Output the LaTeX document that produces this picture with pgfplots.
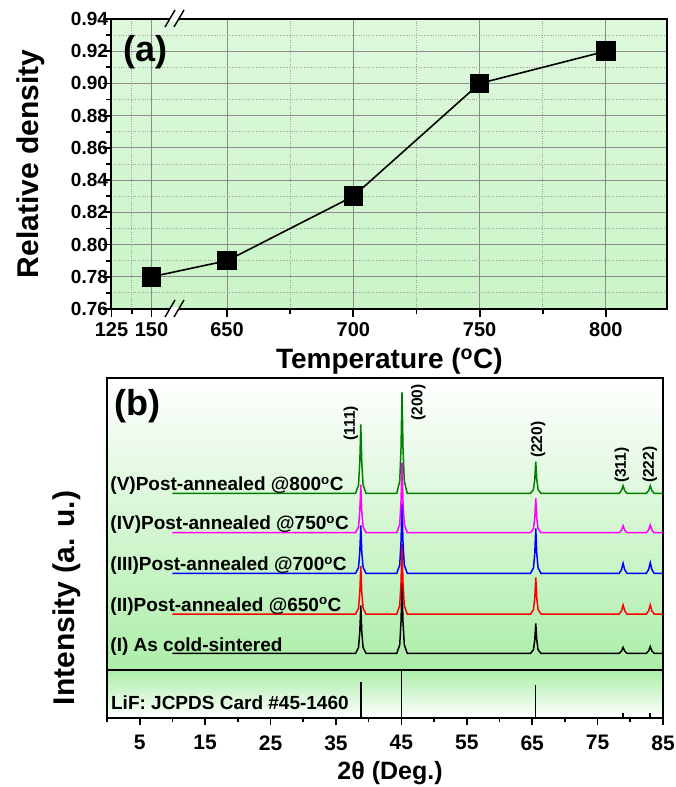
\documentclass[border=0pt]{standalone}
\usepackage{fontspec}
\setmainfont{Liberation Sans}
\usepackage{pgfplots}
\pgfplotsset{compat=1.18}
\definecolor{bggreen}{RGB}{172,238,168}
\definecolor{xgreen}{RGB}{0,128,0}
\definecolor{xmag}{RGB}{255,0,255}
\newcommand{\fs}[1]{\fontsize{#1}{#1}\selectfont\bfseries}

\begin{document}
\begin{tikzpicture}[x=1pt,y=1pt]
\useasboundingbox (0,0) rectangle (676,-787);

% ---------- (a) relative density ----------
\begin{axis}[
  at={(111.5pt,-309pt)}, anchor=south west,
  scale only axis, width=555.8pt, height=290pt,
  xmin=604.25, xmax=824.3, ymin=0.76, ymax=0.94,
  xtick={604.25,620.1,650,700,750,800},
  xticklabels={125,150,650,700,750,800},
  minor xtick={612.3,675,725,775},
  ytick={0.76,0.78,0.80,0.82,0.84,0.86,0.88,0.90,0.92,0.94},
  yticklabels={0.76,0.78,0.80,0.82,0.84,0.86,0.88,0.90,0.92,0.94},
  minor ytick={0.77,0.79,0.81,0.83,0.85,0.87,0.89,0.91,0.93},
  grid=both,
  major grid style={gray!90, line width=1pt},
  minor grid style={gray!75, dotted, line width=0.8pt},
  tick align=outside, tick pos=left,
  major tick length=8pt, minor tick length=5pt,
  tick style={black, line width=1.8pt},
  axis line style={line width=2pt},
  xticklabel style={font=\fs{20}, yshift=-4pt, inner sep=1pt},
  yticklabel style={font=\fs{19}, xshift=8pt},
  xlabel={Temperature (\textsuperscript{o}C)},
  ylabel={Relative density},
  xlabel style={font=\fs{28}, at={(axis description cs:0.5,-0.18)}, anchor=center},
  ylabel style={font=\fs{30}, at={(axis description cs:-0.145,0.5)}, anchor=center},
  axis background/.style={shade, top color=bggreen!40, middle color=bggreen!90, bottom color=bggreen!65},
  clip=false,
]
\addplot[black, line width=1.6pt, mark=square*, mark size=9pt, mark options={fill=black}]
  coordinates {(620.1,0.78) (650,0.79) (700,0.83) (750,0.90) (800,0.92)};
% axis break marks
\fill[white] ([xshift=-4.3pt,yshift=-2.5pt]axis cs:629,0.76) rectangle ([xshift=4.7pt,yshift=2.5pt]axis cs:629,0.76);
\draw[line width=1.4pt] ([xshift=-9pt,yshift=-8pt]axis cs:629,0.76) -- ([xshift=1pt,yshift=9pt]axis cs:629,0.76);
\draw[line width=1.4pt] ([xshift=0pt,yshift=-8pt]axis cs:629,0.76) -- ([xshift=10pt,yshift=9pt]axis cs:629,0.76);
\fill[white] ([xshift=-4.3pt,yshift=-2.5pt]axis cs:629,0.94) rectangle ([xshift=4.7pt,yshift=2.5pt]axis cs:629,0.94);
\draw[line width=1.4pt] ([xshift=-9pt,yshift=-8pt]axis cs:629,0.94) -- ([xshift=1pt,yshift=9pt]axis cs:629,0.94);
\draw[line width=1.4pt] ([xshift=0pt,yshift=-8pt]axis cs:629,0.94) -- ([xshift=10pt,yshift=9pt]axis cs:629,0.94);
\node[font=\fs{36}] at (rel axis cs:0.0603,0.886) {(a)};
\end{axis}

% ---------- (b) XRD patterns ----------
\begin{axis}[
  at={(107pt,-670pt)}, anchor=south west,
  scale only axis, width=556pt, height=292pt,
  xmin=0, xmax=85, ymin=0, ymax=292,
  xtick=\empty, ytick=\empty,
  axis line style={line width=1.6pt},
  ylabel={Intensity (a. u.)},
  ylabel style={font=\fs{30}, at={(axis description cs:-0.072,0.2466)}, anchor=center},
  axis background/.style={shade, top color=white, middle color=bggreen!75, bottom color=bggreen},
]
% (I) as cold-sintered, baseline 16.7
\addplot[black, line width=1.5pt] coordinates {
  (10,16.7) (38.0,16.7) (38.45,22.5) (38.65,38.3) (38.8,64.7) (38.95,38.3) (39.15,22.5) (39.6,16.7)
  (44.3,16.7) (44.75,25.1) (44.95,48.2) (45.1,86.7) (45.25,48.2) (45.45,25.1) (45.9,16.7)
  (64.75,16.7) (65.2,20.3) (65.4,30.2) (65.55,46.7) (65.7,30.2) (65.9,20.3) (66.35,16.7)
  (78.3,16.7) (78.65,18.8) (78.9,22.7) (79.15,18.8) (79.5,16.7)
  (82.45,16.7) (82.8,19.05) (83.05,23.4) (83.3,19.05) (83.65,16.7) (85,16.7)};
% (II) 650 C, baseline 56
\addplot[red, line width=1.5pt] coordinates {
  (10,56) (38.0,56) (38.45,61.8) (38.65,77.6) (38.8,104) (38.95,77.6) (39.15,61.8) (39.6,56)
  (44.3,56) (44.75,64.4) (44.95,87.5) (45.1,126) (45.25,87.5) (45.45,64.4) (45.9,56)
  (64.75,56) (65.2,60.4) (65.4,72.5) (65.55,92.7) (65.7,72.5) (65.9,60.4) (66.35,56)
  (78.3,56) (78.65,59.15) (78.9,65) (79.15,59.15) (79.5,56)
  (82.45,56) (82.8,59.15) (83.05,65) (83.3,59.15) (83.65,56) (85,56)};
% (III) 700 C, baseline 96.7
\addplot[blue, line width=1.5pt] coordinates {
  (10,96.7) (38.0,96.7) (38.45,102.5) (38.65,118.3) (38.8,144.7) (38.95,118.3) (39.15,102.5) (39.6,96.7)
  (44.3,96.7) (44.75,105.1) (44.95,128.2) (45.1,166.7) (45.25,128.2) (45.45,105.1) (45.9,96.7)
  (64.75,96.7) (65.2,102.1) (65.4,116.9) (65.55,141.7) (65.7,116.9) (65.9,102.1) (66.35,96.7)
  (78.3,96.7) (78.65,100.2) (78.9,106.7) (79.15,100.2) (79.5,96.7)
  (82.45,96.7) (82.8,100.4) (83.05,107.4) (83.3,100.4) (83.65,96.7) (85,96.7)};
% (IV) 750 C, baseline 137.3
\addplot[xmag, line width=1.5pt] coordinates {
  (10,137.3) (38.0,137.3) (38.45,143.1) (38.65,158.9) (38.8,185.3) (38.95,158.9) (39.15,143.1) (39.6,137.3)
  (44.3,137.3) (44.75,145.7) (44.95,168.8) (45.1,207.3) (45.25,168.8) (45.45,145.7) (45.9,137.3)
  (64.75,137.3) (65.2,141.4) (65.4,152.8) (65.55,171.7) (65.7,152.8) (65.9,141.4) (66.35,137.3)
  (78.3,137.3) (78.65,139.75) (78.9,144.3) (79.15,139.75) (79.5,137.3)
  (82.45,137.3) (82.8,140) (83.05,145) (83.3,140) (83.65,137.3) (85,137.3)};
% (V) 800 C, baseline 176.7
\addplot[xgreen, line width=1.5pt] coordinates {
  (10,176.7) (38.0,176.7) (38.45,185) (38.65,207.8) (38.8,245.7) (38.95,207.8) (39.15,185) (39.6,176.7)
  (44.3,176.7) (44.75,188.8) (44.95,222.2) (45.1,277.7) (45.25,222.2) (45.45,188.8) (45.9,176.7)
  (64.75,176.7) (65.2,180.5) (65.4,190.9) (65.55,208.3) (65.7,190.9) (65.9,180.5) (66.35,176.7)
  (78.3,176.7) (78.65,179.4) (78.9,184.3) (79.15,179.4) (79.5,176.7)
  (82.45,176.7) (82.8,179.4) (83.05,184.3) (83.3,179.4) (83.65,176.7) (85,176.7)};
\node[font=\fs{19}, anchor=base west, inner sep=0pt] at (axis cs:0.5,179.7) {(V)Post-annealed @800\textsuperscript{o}C};
\node[font=\fs{19}, anchor=base west, inner sep=0pt] at (axis cs:0.5,140.3) {(IV)Post-annealed @750\textsuperscript{o}C};
\node[font=\fs{19}, anchor=base west, inner sep=0pt] at (axis cs:0.5,99.7) {(III)Post-annealed @700\textsuperscript{o}C};
\node[font=\fs{19}, anchor=base west, inner sep=0pt] at (axis cs:0.5,59) {(II)Post-annealed @650\textsuperscript{o}C};
\node[font=\fs{19}, anchor=base west, inner sep=0pt] at (axis cs:0.5,18.7) {(I) As cold-sintered};
\node[font=\fs{15.5}, rotate=90, anchor=west, inner sep=1pt] at (axis cs:37.3,228.3) {(111)};
\node[font=\fs{15.5}, rotate=90, anchor=west, inner sep=1pt] at (axis cs:47.6,248.3) {(200)};
\node[font=\fs{15.5}, rotate=90, anchor=west, inner sep=1pt] at (axis cs:65.9,211) {(220)};
\node[font=\fs{15.5}, rotate=90, anchor=west, inner sep=1pt] at (axis cs:78.7,186) {(311)};
\node[font=\fs{15.5}, rotate=90, anchor=west, inner sep=1pt] at (axis cs:83.0,186) {(222)};
\node[font=\fs{36}] at (rel axis cs:0.054,0.904) {(b)};
\end{axis}

% ---------- reference card ----------
\begin{axis}[
  at={(107pt,-718pt)}, anchor=south west,
  scale only axis, width=556pt, height=48pt,
  xmin=0, xmax=85, ymin=0, ymax=48,
  xtick={5,15,25,35,45,55,65,75,85},
  xticklabels={5,15,25,35,45,55,65,75,85},
  minor xtick={0,10,20,30,40,50,60,70,80},
  ytick=\empty,
  tick align=outside, tick pos=left,
  major tick length=7pt, minor tick length=4pt,
  tick style={black, line width=1.6pt},
  axis line style={line width=1.6pt},
  xticklabel style={font=\fs{21}, yshift=-7pt},
  xlabel={2θ (Deg.)},
  xlabel style={font=\fs{25}, at={(axis description cs:0.509,-1.146)}, anchor=center},
  axis background/.style={shade, top color=bggreen, bottom color=white},
]
\addplot[ycomb, black, line width=1.5pt] coordinates {(38.8,36.3) (45.0,48) (65.5,33) (78.9,5) (83.0,5)};
\node[font=\fs{19}, anchor=base west, inner sep=0pt] at (axis cs:0.6,9) {LiF: JCPDS Card \#45-1460};
\end{axis}
\end{tikzpicture}
\end{document}
